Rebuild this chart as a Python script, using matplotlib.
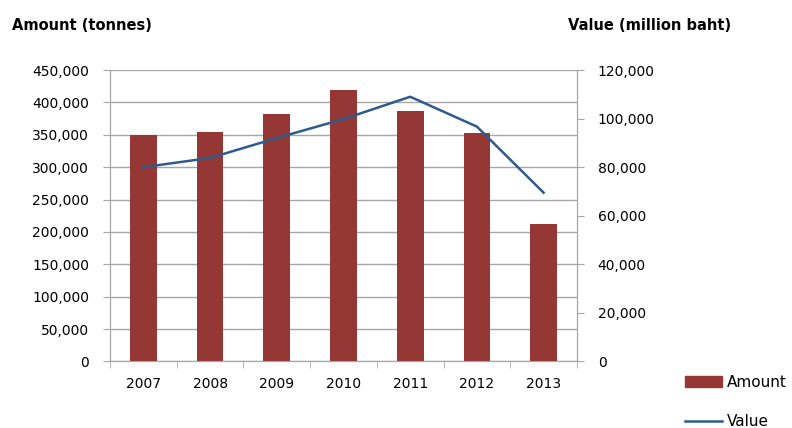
import matplotlib.pyplot as plt
from matplotlib.ticker import FuncFormatter
from matplotlib.patches import Patch
from matplotlib.lines import Line2D

years = ['2007', '2008', '2009', '2010', '2011', '2012', '2013']
amount = [349000, 354000, 382000, 419000, 386500, 352500, 213000]
value = [80000, 83800, 92000, 99800, 109000, 96700, 69500]

bar_color = '#953735'
line_color = '#2E5A8C'
grid_color = '#A6A6A6'

plt.rcParams['font.family'] = ['DejaVu Sans']

fig = plt.figure(figsize=(7.92, 4.28), dpi=100)
ax = fig.add_axes([0.1389, 0.1554, 0.5896, 0.681])
ax2 = ax.twinx()

x = range(len(years))
ax.bar(x, amount, width=0.4, color=bar_color, zorder=3)
ax2.plot(x, value, color=line_color, lw=1.8, zorder=4)

ax.set_xlim(-0.5, len(years) - 0.5)
ax.set_ylim(0, 450000)
ax.set_yticks(range(0, 450001, 50000))
ax2.set_ylim(0, 120000)
ax2.set_yticks(range(0, 120001, 20000))

fmt = FuncFormatter(lambda v, p: f'{int(v):,}')
ax.yaxis.set_major_formatter(fmt)
ax2.yaxis.set_major_formatter(fmt)

ax.set_xticks(list(x))
ax.set_xticklabels(years)
ax.set_xticks([i - 0.5 for i in range(len(years) + 1)], minor=True)
ax.tick_params(axis='x', which='major', length=0, pad=11, labelsize=10)
ax.tick_params(axis='x', which='minor', length=5, color=grid_color)
ax.tick_params(axis='y', length=5, color=grid_color, pad=10, labelsize=10)
ax2.tick_params(axis='y', length=5, color=grid_color, pad=10, labelsize=10)

ax.grid(axis='y', color=grid_color, lw=1, zorder=0)
for a in (ax, ax2):
    a.spines['top'].set_visible(False)
    for s in ('left', 'right', 'bottom'):
        a.spines[s].set_color(grid_color)

fig.text(12 / 792, 1 - 25 / 428, 'Amount (tonnes)', fontsize=10.5, fontweight='bold', va='center')
fig.text(568 / 792, 1 - 25 / 428, 'Value (million baht)', fontsize=10.5, fontweight='bold', va='center')

handles = [Patch(color=bar_color), Line2D([0], [0], color=line_color, lw=1.8)]
fig.legend(handles, ['Amount', 'Value'], loc='center left', bbox_to_anchor=(685 / 792, 1 - 402 / 428),
           frameon=False, fontsize=11, handlelength=2.4, labelspacing=1.6, handletextpad=0.35,
           borderpad=0, borderaxespad=0)

fig.savefig('out.png', dpi=100)
